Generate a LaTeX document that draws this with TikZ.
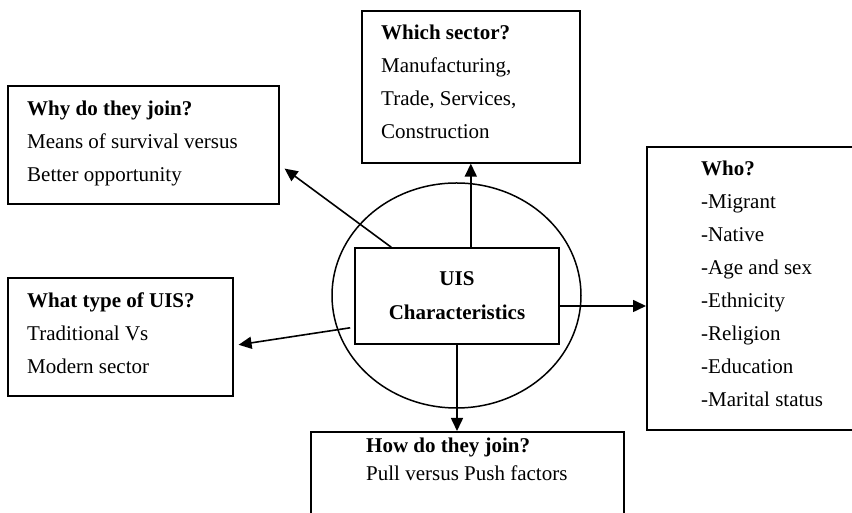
\documentclass[tikz,border=0pt]{standalone}
\usepackage{fontspec}
\setmainfont{Liberation Serif}
\usepackage{tikz}
\usetikzlibrary{arrows.meta, positioning, calc, shapes.geometric}
\tikzset{
	qbox/.style={draw, line width=1.6pt, inner sep=0pt, anchor=north west},
	qtext/.style={inner sep=0pt, anchor=north west, align=left, font=\fontsize{21}{33}\selectfont},
	qarr/.style={-{Triangle[length=13pt, width=12pt]}, line width=1.6pt},
}

\begin{document}
\begin{tikzpicture}[x=1pt, y=1pt]
	\useasboundingbox (0,0) rectangle (852,513);

	% Centre
	\node[draw, ellipse, line width=1.5pt, minimum width=249pt, minimum height=225pt, inner sep=0pt] (ring) at (456.5,217.5) {};
	\node[draw, line width=1.6pt, minimum width=204pt, minimum height=96pt, inner sep=0pt, align=center,
		font=\fontsize{21}{34}\selectfont\bfseries] (uis) at (457,217) {UIS\\Characteristics};

	% Question boxes
	\node[qbox, minimum width=271pt, minimum height=118pt] (why) at (7,428) {};
	\node[qtext] (whytxt) at ($(why.north west)+(20,-6.9)$) {\strut\textbf{Why do they join?}\\Means of survival versus\\Better opportunity};

	\node[qbox, minimum width=218pt, minimum height=152pt] (which) at (361,503) {};
	\node[qtext] (whichtxt) at ($(which.north west)+(20,-5.9)$) {\strut\textbf{Which sector?}\\Manufacturing,\\Trade, Services,\\Construction};

	\node[qbox, minimum width=220pt, minimum height=283pt] (who) at (646,367) {};
	\node[qtext] (whotxt) at ($(who.north west)+(55,-5.9)$) {\strut\textbf{Who?}\\-Migrant\\-Native\\-Age and sex\\-Ethnicity\\-Religion\\-Education\\-Marital status};

	\node[qbox, minimum width=225pt, minimum height=118pt] (what) at (7,236) {};
	\node[qtext] (whattxt) at ($(what.north west)+(20,-6.9)$) {\strut\textbf{What type of UIS?}\\Traditional Vs\\Modern sector};

	\node[qbox, minimum width=313pt, minimum height=100pt] (how) at (310,82) {};
	\node[qtext, font=\fontsize{21}{28}\selectfont] (howtxt) at ($(how.north west)+(56,-1.5)$) {\strut\textbf{How do they join?}\\Pull versus Push factors};

	% Arrows
	\coordinate (uisr) at ($(uis.east)+(0,-10)$);
	\draw[qarr] (which.south |- uis.north) -- (which.south);
	\draw[qarr] (uis.south) -- (uis.south |- how.north);
	\draw[qarr] (uisr) -- (uisr -| who.west);
	\draw[qarr] ($(uis.south west)+(-4,17)$) -- ($(what.east)+(5,-8)$);
	\draw[qarr] ($(uis.north west)+(37,0)$) -- ($(why.south east)+(5,36)$);
\end{tikzpicture}
\end{document}
